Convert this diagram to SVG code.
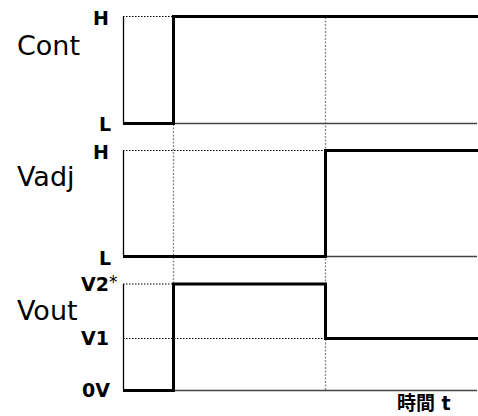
<svg xmlns="http://www.w3.org/2000/svg" width="478" height="416" viewBox="0 0 478 416">
<style>
.name{font-family:"DejaVu Sans",Verdana,sans-serif;font-size:27px;fill:#000}
.lvl{font-family:"DejaVu Sans",Verdana,sans-serif;font-size:19px;font-weight:bold;fill:#000;text-anchor:end}
.axis{stroke:#000;stroke-width:1.3;fill:none}
.base{stroke:#444;stroke-width:1.3;fill:none}
.sig{stroke:#000;stroke-width:3;fill:none;stroke-linejoin:miter}
.dot{stroke:#000;stroke-width:1;stroke-dasharray:1.5 1.5;fill:none}
.vdot{stroke:#888;stroke-width:1.3;stroke-dasharray:2 1.5;fill:none}
</style>
<g id="guides">
<path class="vdot" d="M173.5 124V284"/>
<path class="vdot" d="M325.5 17V390"/>
<path class="dot" d="M123 16.5H173.5"/>
<path class="dot" d="M123 150.5H325.5"/>
<path class="dot" d="M123 284H173.5"/>
<path class="dot" d="M123 338.5H325.5"/>
</g>
<g id="cont">
<text class="name" x="17" y="55">Cont</text>
<text class="lvl" x="109" y="25">H</text>
<text class="lvl" x="111" y="131">L</text>
<path class="axis" d="M123.5 16.5V123.5"/>
<path class="base" d="M173.5 123.5H477"/>
<path class="sig" d="M123 123.5H173.5V16.5H478"/>
</g>
<g id="vadj">
<text class="name" x="17" y="186">Vadj</text>
<text class="lvl" x="109" y="159">H</text>
<text class="lvl" x="111" y="265">L</text>
<path class="axis" d="M123.5 150.5V256.5"/>
<path class="base" d="M325.5 256.5H477"/>
<path class="sig" d="M123 256.5H325.5V150.5H478"/>
</g>
<g id="vout">
<text class="name" x="17" y="320">Vout</text>
<text class="lvl" x="109" y="291">V2</text>
<text x="109" y="288" font-family="DejaVu Sans,Verdana,sans-serif" font-size="17" fill="#000">*</text>
<text class="lvl" x="109" y="345">V1</text>
<text class="lvl" x="110" y="397">0V</text>
<path class="axis" d="M123.5 284V390.5"/>
<path class="base" d="M173.5 390.5H477"/>
<path class="sig" d="M123 390.5H173.5V284H325.5V338.5H478"/>
</g>
<g id="time">
<text x="397" y="410" font-family="DejaVu Sans,'Noto Sans CJK JP',sans-serif" font-size="19" font-weight="bold" fill="#000">時間 t</text>
</g>
</svg>
